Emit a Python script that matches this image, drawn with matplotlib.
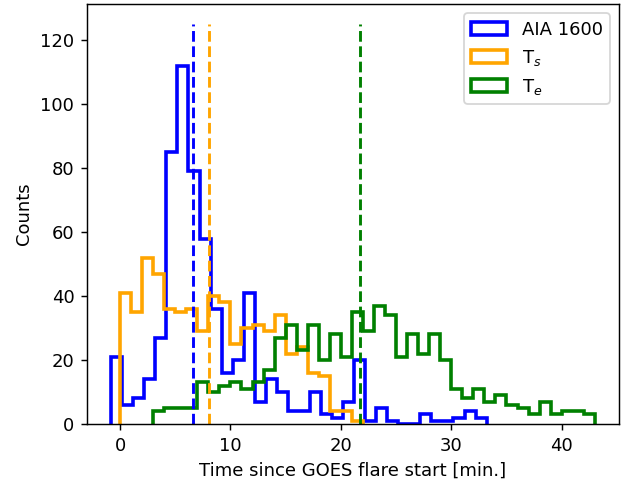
import numpy as np
import matplotlib
matplotlib.use('Agg')
import matplotlib.pyplot as plt

# counts per 1-minute bin
aia_counts = [21, 6, 8, 14, 27, 85, 112, 79, 58, 36, 16, 20, 41, 7, 14, 10, 4, 4,
              10, 3, 2, 7, 20, 1, 5, 1, 0, 0, 3, 1, 1, 2, 4, 2]
ts_counts = [41, 35, 52, 47, 36, 35, 36, 29, 40, 38, 25, 30, 31, 29, 34, 22, 24,
             16, 15, 4, 4, 1]
te_counts = [4, 5, 5, 5, 13, 10, 12, 13, 11, 13, 17, 27, 31, 23, 31, 20, 28, 21,
             35, 29, 37, 34, 21, 28, 22, 28, 20, 11, 8, 11, 7, 9, 6, 5, 3, 7, 3,
             4, 4, 3]

aia_start = -0.8
ts_start = 0.0
te_start = 3.0
bin_width = 1.0

# median times [min]
aia_med = 6.63
ts_med = 8.05
te_med = 21.7

labels = ['AIA 1600', 'T$_s$', 'T$_e$']
colors = ['blue', 'orange', 'green']


def edges(start, n):
    return start + bin_width * np.arange(n + 1)


dpi = 130
fig = plt.figure(figsize=(633 / dpi, 480 / dpi), dpi=dpi)
ax = fig.add_axes([87 / 633, 56 / 480, 532 / 633, 419.7 / 480])

series = [(aia_counts, aia_start), (ts_counts, ts_start), (te_counts, te_start)]
for (cnt, st), lab, c in zip(series, labels, colors):
    e = edges(st, len(cnt))
    ax.hist(e[:-1], bins=e, weights=cnt, histtype='step', color=c, lw=2, label=lab)

for m, c in zip([aia_med, ts_med, te_med], colors):
    ax.vlines(m, 0, 125, colors=c, linestyles='--', lw=1.6)

ax.set_xlabel('Time since GOES flare start [min.]')
ax.set_ylabel('Counts')
ax.legend(loc='upper right')

fig.savefig('out.png', dpi=dpi)
